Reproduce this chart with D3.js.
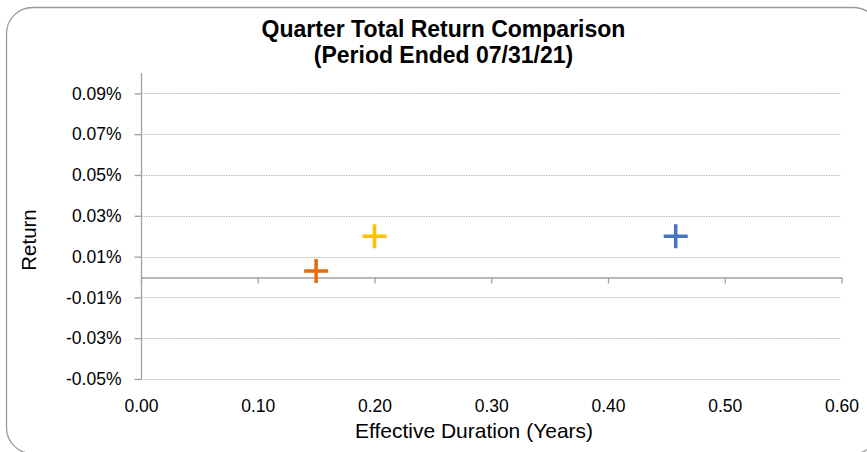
<!DOCTYPE html>
<html>
<head>
<meta charset="utf-8">
<script src="https://cdn.jsdelivr.net/npm/d3@7"></script>
<style>
    body { margin: 0; background: #fff; }
    svg { display: block; font-family: "Liberation Sans", Arial, sans-serif; }
</style>
</head>
<body>
<div id="chart"></div>
<script>
// Data (returns in percent)
const seriesNames = ['Series 1', 'Series 2', 'Series 3'];
const durations = [0.458, 0.20, 0.15];
const returns = [0.020, 0.020, 0.003];
const seriesColors = ['#4472C4', '#FFC000', '#E46C0A'];

const xTicks = [0, 0.1, 0.2, 0.3, 0.4, 0.5, 0.6];
const yTicks = [-0.05, -0.03, -0.01, 0.01, 0.03, 0.05, 0.07, 0.09];

const W = 867, H = 452;

const svg = d3.select('#chart')
    .append('svg')
    .attr('width', W)
    .attr('height', H);

// Chart border (rounded, runs off the right edge)
svg.append('rect')
    .attr('x', 6.5)
    .attr('y', 7.5)
    .attr('width', 873)
    .attr('height', 446)
    .attr('rx', 26)
    .attr('fill', '#fff')
    .attr('stroke', '#9a9a9a')
    .attr('stroke-width', 1.3);

const x = d3.scaleLinear().domain([0, 0.6]).range([141, 841.5]);
const y = d3.scaleLinear().domain([-0.05, 0.10]).range([379, 73]);

// Gridlines
svg.append('g')
    .selectAll('line')
    .data(yTicks)
    .enter()
    .append('line')
    .attr('x1', 141)
    .attr('x2', x(0.6))
    .attr('y1', d => Math.round(y(d)) + 0.5)
    .attr('y2', d => Math.round(y(d)) + 0.5)
    .attr('stroke', '#b8b8b8')
    .attr('stroke-dasharray', '1.5,1');

// Y axis
const yAxis = svg.append('g')
    .attr('transform', 'translate(141.5,0)')
    .call(d3.axisLeft(y).tickValues(yTicks).tickSize(7).tickPadding(13)
        .tickFormat(d => d3.format('.2f')(d).replace('\u2212', '-') + '%'));
yAxis.select('.domain').attr('d', `M0,${y(0.10)}V${y(-0.05)}`);

// X axis at zero
const xAxis = svg.append('g')
    .attr('transform', `translate(0,${Math.round(y(0)) + 0.5})`)
    .call(d3.axisBottom(x).tickValues(xTicks).tickSize(6).tickSizeOuter(0)
        .tickFormat(d3.format('.2f')));
xAxis.selectAll('.tick text').attr('transform', `translate(0,${379 - y(0) + 11})`);

svg.selectAll('.domain, .tick line').attr('stroke', '#a0a0a0').attr('stroke-width', 1.3);
svg.selectAll('.tick text')
    .attr('font-size', 17.5)
    .attr('fill', '#000')
    .attr('font-family', '"Liberation Sans", Arial, sans-serif');

// Markers (plus signs)
const points = durations.map((d, i) => ({ name: seriesNames[i], x: d, y: returns[i], color: seriesColors[i] }));
svg.append('g')
    .selectAll('path')
    .data(points)
    .enter()
    .append('path')
    .attr('d', d => {
        const cx = x(d.x), cy = y(d.y), r = 12;
        return `M${cx - r},${cy}H${cx + r}M${cx},${cy - r}V${cy + r}`;
    })
    .attr('stroke', d => d.color)
    .attr('stroke-width', 3.5)
    .attr('fill', 'none');

// Title
const title = svg.append('text')
    .attr('text-anchor', 'middle')
    .attr('font-size', 23)
    .attr('font-weight', 'bold')
    .attr('fill', '#000');
title.append('tspan').attr('x', 443.5).attr('y', 37).text('Quarter Total Return Comparison');
title.append('tspan').attr('x', 443.5).attr('y', 63).text('(Period Ended 07/31/21)');

// Axis titles
svg.append('text')
    .attr('x', 474)
    .attr('y', 438)
    .attr('text-anchor', 'middle')
    .attr('font-size', 21)
    .text('Effective Duration (Years)');

svg.append('text')
    .attr('transform', 'translate(35.5,240) rotate(-90)')
    .attr('text-anchor', 'middle')
    .attr('font-size', 20.5)
    .text('Return');
</script>
</body>
</html>
